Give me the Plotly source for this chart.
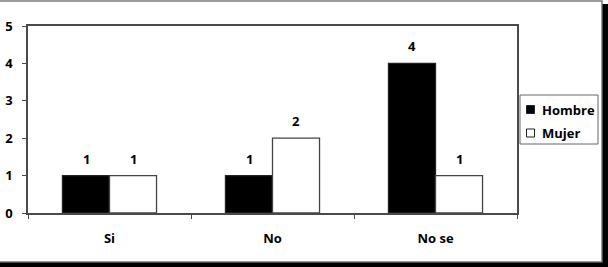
import plotly.graph_objects as go

categories = ["Si", "No", "No se"]
hombre = [1, 1, 4]
mujer = [1, 2, 1]
series_names = ["Hombre", "Mujer"]
series_colors = ["black", "white"]
y_ticks = [0, 1, 2, 3, 4, 5]

W, H = 608, 267
L, R, T, B = 28, 517, 26, 213
FAM = "Open Sans"
FONT = dict(family=FAM, size=13, color="black", weight="bold")
LINE = "#4a4a4a"

def px(x):
    return (x - L) / (R - L)

def py(y):
    return (B - y) / (B - T)

fig = go.Figure()
for name, vals, col, lc in ((series_names[0], hombre, series_colors[0], "#222"),
                            (series_names[1], mujer, series_colors[1], "#444")):
    fig.add_trace(go.Bar(x=categories, y=vals, name=name,
                         marker=dict(color=col, line=dict(color=lc, width=1.3))))

# value labels
offset = 23.5
for vals, sh in ((hombre, -offset), (mujer, offset)):
    for c, v in zip(categories, vals):
        fig.add_annotation(x=c, y=v, text=str(v), showarrow=False,
                           xshift=sh, yshift=6, yanchor="bottom", font=FONT)

shapes = []
# outer frame: thin gray border + black shadow on right and bottom
shapes.append(dict(type="rect", xref="paper", yref="paper",
                   x0=px(-2), x1=px(602), y0=py(262), y1=py(1),
                   line=dict(color="#7a7a7a", width=1.5), fillcolor="rgba(0,0,0,0)"))
shapes.append(dict(type="rect", xref="paper", yref="paper",
                   x0=px(602.5), x1=px(610), y0=py(270), y1=py(4),
                   line=dict(width=0), fillcolor="black"))
shapes.append(dict(type="rect", xref="paper", yref="paper",
                   x0=px(-2), x1=px(610), y0=py(270), y1=py(262.6),
                   line=dict(width=0), fillcolor="black"))

# legend box (manual)
shapes.append(dict(type="rect", xref="paper", yref="paper",
                   x0=px(520), x1=px(598), y0=py(144), y1=py(95),
                   line=dict(color="#666", width=1), fillcolor="white"))
row_y = [109.5, 133]
annotations = []
for name, col, yy in zip(series_names, series_colors, row_y):
    shapes.append(dict(type="rect", xref="paper", yref="paper",
                       x0=px(526.5), x1=px(534.5), y0=py(yy + 4), y1=py(yy - 4),
                       line=dict(color="#222", width=1), fillcolor=col))
    annotations.append(dict(xref="paper", yref="paper", x=px(540), y=py(yy),
                            xanchor="left", yanchor="middle", text=name,
                            showarrow=False, font=FONT))

fig.update_layout(
    width=W, height=H,
    margin=dict(l=L, r=W - R, t=T, b=H - B, pad=0, autoexpand=False),
    paper_bgcolor="white", plot_bgcolor="white",
    barmode="group", bargap=0.423, bargroupgap=0,
    font=FONT,
    showlegend=False,
    shapes=shapes,
)
for a in annotations:
    fig.add_annotation(**a)

fig.update_xaxes(showline=True, mirror=True, linecolor=LINE, linewidth=1.5,
                 ticks="outside", tickson="boundaries", ticklen=4, tickcolor=LINE, tickwidth=1.2,
                 tickfont=FONT, ticklabelstandoff=13, showgrid=False, zeroline=False)
fig.update_yaxes(range=[0, 5], tickvals=y_ticks, showline=True, mirror=True,
                 linecolor=LINE, linewidth=1.5, ticks="outside", ticklen=4,
                 tickcolor=LINE, tickwidth=1.2,
                 tickfont=FONT, ticklabelstandoff=7, showgrid=False, zeroline=False)

fig.write_html("out.html")
